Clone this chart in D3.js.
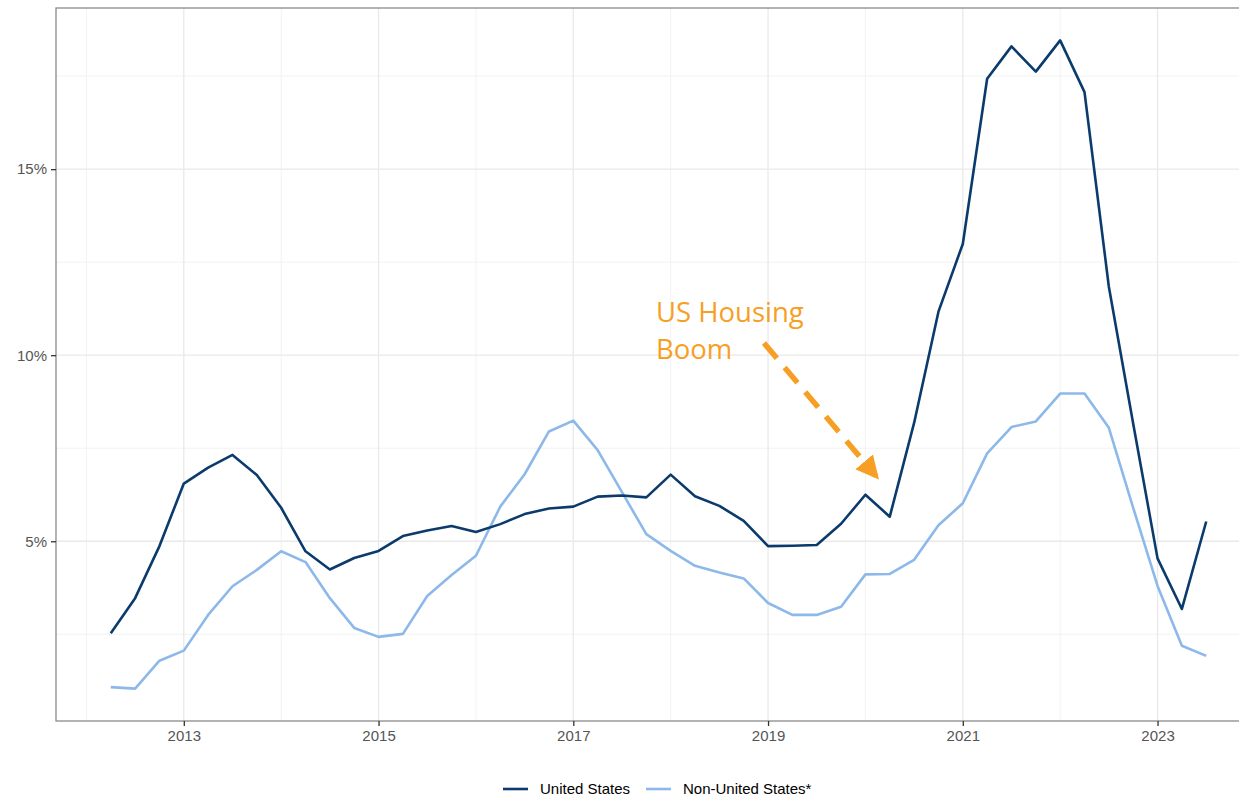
<!DOCTYPE html>
<html>
<head>
<meta charset="utf-8">
<script src="https://cdn.jsdelivr.net/npm/d3@7"></script>
<style>
  body { margin: 0; background: #fff; }
  svg { display: block; font-family: "Liberation Sans", Arial, sans-serif; }
</style>
</head>
<body>
<svg></svg>
<script>
const quarters = [
  "2012 Q2", "2012 Q3", "2012 Q4",
  "2013 Q1", "2013 Q2", "2013 Q3", "2013 Q4",
  "2014 Q1", "2014 Q2", "2014 Q3", "2014 Q4",
  "2015 Q1", "2015 Q2", "2015 Q3", "2015 Q4",
  "2016 Q1", "2016 Q2", "2016 Q3", "2016 Q4",
  "2017 Q1", "2017 Q2", "2017 Q3", "2017 Q4",
  "2018 Q1", "2018 Q2", "2018 Q3", "2018 Q4",
  "2019 Q1", "2019 Q2", "2019 Q3", "2019 Q4",
  "2020 Q1", "2020 Q2", "2020 Q3", "2020 Q4",
  "2021 Q1", "2021 Q2", "2021 Q3", "2021 Q4",
  "2022 Q1", "2022 Q2", "2022 Q3", "2022 Q4",
  "2023 Q1", "2023 Q2", "2023 Q3"
];

const usValues = [
  2.53, 3.47, 4.87,
  6.55, 6.98, 7.32, 6.78,
  5.90, 4.73, 4.24, 4.55,
  4.74, 5.14, 5.29, 5.41,
  5.25, 5.46, 5.73, 5.88,
  5.93, 6.20, 6.23, 6.18,
  6.79, 6.21, 5.95, 5.55,
  4.87, 4.88, 4.90, 5.47,
  6.25, 5.66, 8.18, 11.17,
  12.99, 17.43, 18.30, 17.62,
  18.46, 17.07, 11.84, 8.16,
  4.54, 3.18, 5.53
];

const nonUsValues = [
  1.08, 1.04, 1.79,
  2.06, 3.02, 3.79, 4.23,
  4.73, 4.44, 3.47, 2.67,
  2.43, 2.51, 3.53, 4.09,
  4.61, 5.93, 6.80, 7.95,
  8.24, 7.45, 6.32, 5.19,
  4.74, 4.34, 4.16, 4.00,
  3.34, 3.02, 3.02, 3.24,
  4.11, 4.12, 4.50, 5.43,
  6.02, 7.36, 8.07, 8.22,
  8.97, 8.97, 8.05, 5.90,
  3.80, 2.19, 1.92
];

const seriesNames = ["United States", "Non-United States*"];
const xTickYears = [2013, 2015, 2017, 2019, 2021, 2023];
const xMinorYears = [2012, 2014, 2016, 2018, 2020, 2022, 2024];
const yTicks = [5, 10, 15];
const yMinorTicks = [2.5, 7.5, 12.5, 17.5];
const annotationLines = ["US Housing", "Boom"];

const width = 1239;
const height = 799;
const colors = ["#0b3b6c", "#8cb9e9"];

// quarter label -> decimal year
const toYear = s => {
  const [y, q] = s.split(" Q");
  return +y + (+q - 1) / 4;
};

const series = seriesNames.map((name, i) => ({
  name,
  color: colors[i],
  values: quarters.map((q, j) => ({ x: toYear(q), y: (i === 0 ? usValues : nonUsValues)[j] }))
}));

const panel = { left: 56, top: 8, right: 1261, bottom: 721 };

// ggplot style 5% expansion
const xExt = d3.extent(quarters, toYear);
const xPad = (xExt[1] - xExt[0]) * 0.05;
const x = d3.scaleLinear()
  .domain([xExt[0] - xPad, xExt[1] + xPad])
  .range([panel.left, panel.right]);

const yExt = d3.extent(usValues.concat(nonUsValues));
const yPad = (yExt[1] - yExt[0]) * 0.05;
const y = d3.scaleLinear()
  .domain([yExt[0] - yPad, yExt[1] + yPad])
  .range([panel.bottom, panel.top]);

const svg = d3.select("svg")
  .attr("width", width)
  .attr("height", height);

// grid
const grid = svg.append("g");
grid.selectAll("line.xminor")
  .data(xMinorYears)
  .join("line")
    .attr("x1", d => x(d)).attr("x2", d => x(d))
    .attr("y1", panel.top).attr("y2", panel.bottom)
    .attr("stroke", "#f2f2f2").attr("stroke-width", 1);
grid.selectAll("line.yminor")
  .data(yMinorTicks)
  .join("line")
    .attr("x1", panel.left).attr("x2", panel.right)
    .attr("y1", d => y(d)).attr("y2", d => y(d))
    .attr("stroke", "#f2f2f2").attr("stroke-width", 1);
grid.selectAll("line.xmajor")
  .data(xTickYears)
  .join("line")
    .attr("x1", d => x(d)).attr("x2", d => x(d))
    .attr("y1", panel.top).attr("y2", panel.bottom)
    .attr("stroke", "#e9e9e9").attr("stroke-width", 1.3);
grid.selectAll("line.ymajor")
  .data(yTicks)
  .join("line")
    .attr("x1", panel.left).attr("x2", panel.right)
    .attr("y1", d => y(d)).attr("y2", d => y(d))
    .attr("stroke", "#e9e9e9").attr("stroke-width", 1.3);

// lines
const line = d3.line().x(d => x(d.x)).y(d => y(d.y));
svg.append("g")
  .selectAll("path")
  .data(series.slice().reverse())
  .join("path")
    .attr("fill", "none")
    .attr("stroke", d => d.color)
    .attr("stroke-width", 2.6)
    .attr("stroke-linejoin", "round")
    .attr("d", d => line(d.values));

// panel border
svg.append("rect")
  .attr("x", panel.left).attr("y", panel.top)
  .attr("width", panel.right - panel.left)
  .attr("height", panel.bottom - panel.top)
  .attr("fill", "none")
  .attr("stroke", "#8a8a8a")
  .attr("stroke-width", 1.3);

// axes
const xAxis = svg.append("g")
  .attr("transform", `translate(0,${panel.bottom})`)
  .call(d3.axisBottom(x).tickValues(xTickYears).tickFormat(d3.format("d")).tickSize(5).tickPadding(4));
const yAxis = svg.append("g")
  .attr("transform", `translate(${panel.left},0)`)
  .call(d3.axisLeft(y).tickValues(yTicks).tickFormat(d => d + "%").tickSize(5).tickPadding(4));

[xAxis, yAxis].forEach(g => {
  g.select(".domain").remove();
  g.selectAll(".tick line").attr("stroke", "#333").attr("stroke-width", 1.3);
  g.selectAll(".tick text")
    .attr("fill", "#555")
    .attr("font-size", 15)
    .attr("font-family", "Liberation Sans, Arial, sans-serif");
});

// annotation
const orange = "#f79f24";
svg.append("text")
  .attr("x", 656)
  .attr("y", 322)
  .attr("fill", orange)
  .attr("font-size", 27.5)
  .attr("font-family", "Open Sans, Noto Sans, sans-serif")
  .selectAll("tspan")
  .data(annotationLines)
  .join("tspan")
    .attr("x", 656)
    .attr("dy", (d, i) => i === 0 ? 0 : 37)
    .text(d => d);

svg.append("defs").append("marker")
  .attr("id", "arrow")
  .attr("viewBox", "0 0 10 10")
  .attr("refX", 8).attr("refY", 5)
  .attr("markerWidth", 4.2).attr("markerHeight", 4.2)
  .attr("markerUnits", "strokeWidth")
  .attr("orient", "auto")
  .append("path")
    .attr("d", "M0,0 L10,5 L0,10 Z")
    .attr("fill", orange);

svg.append("line")
  .attr("x1", 764).attr("y1", 343)
  .attr("x2", 876).attr("y2", 476)
  .attr("stroke", orange)
  .attr("stroke-width", 5.5)
  .attr("stroke-dasharray", "20 12")
  .attr("marker-end", "url(#arrow)");

// legend
const legendPos = [503, 646];
const legend = svg.append("g")
  .selectAll("g")
  .data(series)
  .join("g")
    .attr("transform", (d, i) => `translate(${legendPos[i]},789)`);
legend.append("line")
  .attr("x1", 0).attr("x2", 25)
  .attr("stroke", d => d.color)
  .attr("stroke-width", 2.6);
legend.append("text")
  .attr("x", 37)
  .attr("dy", "0.35em")
  .attr("fill", "#000")
  .attr("font-size", 15)
  .text(d => d.name);
</script>
</body>
</html>
